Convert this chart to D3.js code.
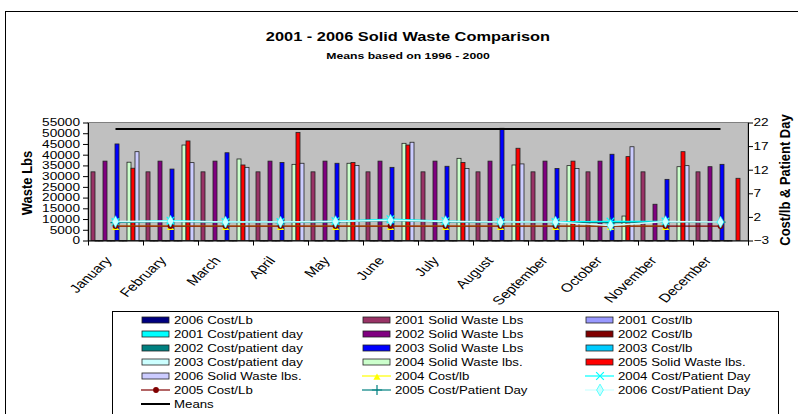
<!DOCTYPE html>
<html>
<head>
<meta charset="utf-8">
<script src="https://cdn.jsdelivr.net/npm/d3@7"></script>
<style>
  body { margin: 0; background: #fff; }
  svg { display: block; font-family: "Liberation Sans", Arial, sans-serif; }
</style>
</head>
<body>
<script>
const months = ['January', 'February', 'March', 'April', 'May', 'June',
    'July', 'August', 'September', 'October', 'November', 'December'];

// solid waste lbs (primary axis)
const sw2001 = [32000, 32000, 32000, 32000, 32000, 32000, 32000, 32000, 32000, 32000, 32000, 32000];
const sw2002 = [37000, 37000, 37000, 37000, 37000, 37000, 37000, 37000, 37000, 37000, 16900, 34400];
const sw2003 = [45000, 33300, 40900, 36400, 36000, 34100, 34600, 52300, 33600, 40200, 28500, 35500];
const sw2004 = [36500, 44500, 38000, 35500, 36000, 45300, 38300, 35200, 34900, 11400, 34400, null];
const sw2005 = [33700, 46400, 35200, 50400, 36400, 44500, 36400, 43000, 37000, 39100, 41400, 29000];
const sw2006 = [41400, 36300, 34100, 36000, 35000, 45800, 33600, 35700, 33600, 43700, 34900, null];

// cost series that were charted as columns on the waste axis (they sit on the floor)
const costLb2001 = [0.07, 0.07, 0.07, 0.07, 0.07, 0.07, 0.07, 0.07, 0.07, 0.07, 0.07, 0.07];
const costLb2002 = [0.07, 0.07, 0.07, 0.07, 0.07, 0.07, 0.07, 0.07, 0.07, 0.07, 0.07, 0.07];
const costLb2003 = [0.07, 0.07, 0.07, 0.07, 0.07, 0.07, 0.07, 0.07, 0.07, 0.07, 0.07, 0.07];
const costLb2006 = [0.08, 0.08, 0.08, 0.08, 0.08, 0.08, 0.08, 0.08, 0.08, 0.08, 0.08, null];
const cpd2001 = [0.9, 0.9, 0.9, 0.9, 0.9, 0.9, 0.9, 0.9, 0.9, 0.9, 0.9, 0.9];
const cpd2002 = [0.9, 0.9, 0.9, 0.9, 0.9, 0.9, 0.9, 0.9, 0.9, 0.9, 0.9, 0.9];
const cpd2003 = [0.9, 0.9, 0.9, 0.9, 0.9, 0.9, 0.9, 0.9, 0.9, 0.9, 0.9, 0.9];

// line series (secondary axis)
const costLb2004 = [0.05, 0.05, 0.05, 0.05, 0.05, 0.05, 0.05, 0.05, 0.05, 0.05, 0.05, null];
const costLb2005 = [0.05, 0.05, 0.05, 0.05, 0.05, 0.05, 0.05, 0.05, 0.05, 0.05, 0.05, 0.05];
const cpd2004 = [0.9, 1.2, 0.9, 0.9, 1.1, 1.5, 1.1, 0.9, 0.9, 1.0, 1.0, null];
const cpd2005 = [0.8, 1.0, 0.8, 0.8, 0.9, 1.2, 0.9, 0.8, 0.8, 0.8, 0.9, 0.9];
const cpd2006 = [1.0, 1.1, 0.9, 0.9, 1.0, 1.3, 1.0, 0.9, 0.9, 0.2, 1.0, 0.9];
const means = [52000, 52000, 52000, 52000, 52000, 52000, 52000, 52000, 52000, 52000, 52000, 52000];

const wasteTicks = [0, 5000, 10000, 15000, 20000, 25000, 30000, 35000, 40000, 45000, 50000, 55000];
const costTicks = [-3, 2, 7, 12, 17, 22];

// column series in the order Excel lays them out in each month
const barSeries = [
    {name: '2001 Solid Waste Lbs', values: sw2001, color: '#993366'},
    {name: '2001 Cost/lb', values: costLb2001, color: '#9999ff'},
    {name: '2001 Cost/patient day', values: cpd2001, color: '#00ffff'},
    {name: '2002 Solid Waste Lbs', values: sw2002, color: '#800080'},
    {name: '2002 Cost/lb', values: costLb2002, color: '#800000'},
    {name: '2002 Cost/patient day', values: cpd2002, color: '#008080'},
    {name: '2003 Solid Waste Lbs', values: sw2003, color: '#0000ff'},
    {name: '2003 Cost/lb', values: costLb2003, color: '#00ccff'},
    {name: '2003 Cost/patient day', values: cpd2003, color: '#ccffff'},
    {name: '2004 Solid Waste lbs.', values: sw2004, color: '#ccffcc'},
    {name: '2005 Solid Waste lbs.', values: sw2005, color: '#ff0000'},
    {name: '2006 Solid Waste lbs.', values: sw2006, color: '#ccccff'},
    {name: '2006 Cost/Lb', values: costLb2006, color: '#000080'}
];

const lineSeries = [
    {name: '2004 Cost/lb', values: costLb2004, color: '#ffff00', sym: 'triangle', w: 1},
    {name: '2004 Cost/Patient Day', values: cpd2004, color: '#00ffff', sym: 'times', w: 1.5},
    {name: '2005 Cost/Lb', values: costLb2005, color: '#800000', sym: 'circle', w: 1.2},
    {name: '2005 Cost/Patient Day', values: cpd2005, color: '#008080', sym: 'plus', w: 1},
    {name: '2006 Cost/Patient Day', values: cpd2006, color: '#ccffff', sym: 'diamond', w: 1.5}
];

const legendOrder = [
    '2006 Cost/Lb', '2001 Solid Waste Lbs', '2001 Cost/lb',
    '2001 Cost/patient day', '2002 Solid Waste Lbs', '2002 Cost/lb',
    '2002 Cost/patient day', '2003 Solid Waste Lbs', '2003 Cost/lb',
    '2003 Cost/patient day', '2004 Solid Waste lbs.', '2005 Solid Waste lbs.',
    '2006 Solid Waste lbs.', '2004 Cost/lb', '2004 Cost/Patient Day',
    '2005 Cost/Lb', '2005 Cost/Patient Day', '2006 Cost/Patient Day',
    'Means'
];

const SX = 1.3;  // the reference image is stretched sideways, text included

const svg = d3.select("body").append("svg")
    .attr("width", 798)
    .attr("height", 414);

svg.append("rect")
    .attr("x", 5.5).attr("y", 11.5)
    .attr("width", 840).attr("height", 440)
    .attr("fill", "#fff")
    .attr("stroke", "#000");

function label(x, y, str, size, weight, anchor, extra) {
    return svg.append("text")
        .attr("transform", `translate(${x},${y}) scale(${SX},1)` + (extra || ""))
        .attr("text-anchor", anchor || "start")
        .style("font-size", size + "px")
        .style("font-weight", weight || "normal")
        .text(str);
}

label(408, 40.5, "2001 - 2006 Solid Waste Comparison", 12.6, "bold", "middle");
label(408, 59, "Means based on 1996 - 2000", 9.4, "bold", "middle");

const plot = {left: 88, right: 748, top: 122.5, bottom: 240.5};

const x = d3.scaleBand()
    .domain(months)
    .range([plot.left, plot.right])
    .padding(0);

const x1 = d3.scaleBand()
    .domain(barSeries.map(d => d.name))
    .range([3, x.bandwidth()]);

const y = d3.scaleLinear()
    .domain([0, 55000])
    .range([plot.bottom, plot.top]);

const y2 = d3.scaleLinear()
    .domain([-3, 22])
    .range([plot.bottom, plot.top]);

svg.append("rect")
    .attr("x", plot.left).attr("y", plot.top)
    .attr("width", plot.right - plot.left)
    .attr("height", plot.bottom - plot.top)
    .attr("fill", "#c0c0c0")
    .attr("stroke", "#808080");

// columns
barSeries.forEach(s => {
    svg.append("g").selectAll("rect")
        .data(s.values.map((v, i) => ({m: months[i], v})).filter(d => d.v != null))
        .enter().append("rect")
        .attr("x", d => x(d.m) + x1(s.name))
        .attr("width", x1.bandwidth())
        .attr("y", d => y(d.v))
        .attr("height", d => Math.max(0.5, y(0) - y(d.v)))
        .attr("fill", s.color)
        .attr("stroke", "#222")
        .attr("stroke-width", 0.8);
});

// axes
const leftAxis = svg.append("g")
    .attr("transform", `translate(${plot.left},0)`)
    .call(d3.axisLeft(y).tickValues(wasteTicks).tickSize(5).tickSizeOuter(0).tickFormat(d3.format("d")));
leftAxis.selectAll("text")
    .attr("x", -8 / SX)
    .attr("transform", `scale(${SX},1)`)
    .style("font-size", "10.5px")
    .attr("fill", "#000");

const rightAxis = svg.append("g")
    .attr("transform", `translate(${plot.right},0)`)
    .call(d3.axisRight(y2).tickValues(costTicks).tickSize(5).tickSizeOuter(0));
rightAxis.selectAll("text")
    .attr("x", 5.5 / SX)
    .attr("transform", `scale(${SX},1)`)
    .style("font-size", "10.5px")
    .attr("fill", "#000");

const xl = d3.scaleLinear().domain([0, months.length]).range([plot.left, plot.right]);
svg.append("g")
    .attr("transform", `translate(0,${plot.bottom})`)
    .call(d3.axisBottom(xl).tickValues(d3.range(months.length + 1)).tickSize(5).tickSizeOuter(0).tickFormat(""));

svg.selectAll(".domain").attr("stroke", "#000");
svg.selectAll(".tick line").attr("stroke", "#000");

months.forEach((m, i) => {
    label(x(m) + x.bandwidth() / 2 - 3 - i * 0.5, 261, m, 12, "normal", "end", " rotate(-50)");
});

svg.append("text")
    .attr("transform", "translate(32,183) scale(1.15,1) rotate(-90)")
    .attr("text-anchor", "middle")
    .style("font-size", "13px")
    .style("font-weight", "bold")
    .text("Waste Lbs");
svg.append("text")
    .attr("transform", "translate(790,180) scale(1.15,1) rotate(-90)")
    .attr("text-anchor", "middle")
    .style("font-size", "13px")
    .style("font-weight", "bold")
    .text("Cost/lb & Patient Day");

// lines on the cost axis
const cx = i => x(months[i]) + x.bandwidth() / 2;
const symbols = {
    circle: d3.symbolCircle,
    diamond: d3.symbolDiamond,
    plus: d3.symbolPlus || d3.symbolCross,
    times: d3.symbolTimes || d3.symbolX || d3.symbolCross
};
const strokeSyms = ['plus', 'times'];

function drawMarker(g, sym, color, px, py, size) {
    const p = g.append("path")
        .attr("transform", `translate(${px},${py})`);
    if (sym === 'triangle') {
        // Excel's triangle sits a little low, so its base shows under the 2005 circles
        p.attr("d", "M0,-2.5L3.6,3.8L-3.6,3.8Z").attr("fill", color);
        return;
    }
    p.attr("d", d3.symbol().type(symbols[sym]).size(size)());
    if (strokeSyms.includes(sym)) {
        p.attr("fill", "none").attr("stroke", color).attr("stroke-width", 1.2);
    } else if (sym === 'diamond') {
        p.attr("fill", color).attr("stroke", "#00ffff").attr("stroke-width", 0.6);
    } else {
        p.attr("fill", color);
    }
}

const markerSize = {triangle: 30, circle: 26, diamond: 40, plus: 36, times: 40};

lineSeries.forEach(s => {
    const g = svg.append("g");
    const line = d3.line()
        .defined(d => d != null)
        .x((d, i) => cx(i))
        .y(d => y2(d));
    g.append("path")
        .attr("d", line(s.values))
        .attr("fill", "none")
        .attr("stroke", s.color)
        .attr("stroke-width", s.w);
    s.values.forEach((v, i) => {
        if (v != null) drawMarker(g, s.sym, s.color, cx(i), y2(v), markerSize[s.sym]);
    });
});

svg.append("path")
    .attr("d", d3.line().x((d, i) => cx(i)).y(d => y(d))(means))
    .attr("fill", "none")
    .attr("stroke", "#000")
    .attr("stroke-width", 2);

// legend
svg.append("rect")
    .attr("x", 112.5).attr("y", 311.5)
    .attr("width", 666).attr("height", 140)
    .attr("fill", "#fff")
    .attr("stroke", "#000");

const legendCols = [142, 363, 586];
legendOrder.forEach((name, k) => {
    const col = legendCols[k % 3];
    const ry = 320 + 14 * Math.floor(k / 3);
    const bar = barSeries.find(s => s.name === name);
    const ln = lineSeries.find(s => s.name === name);
    if (bar) {
        svg.append("rect")
            .attr("x", col).attr("y", ry - 3)
            .attr("width", 27).attr("height", 6)
            .attr("fill", bar.color)
            .attr("stroke", "#222")
            .attr("stroke-width", 0.8);
    } else {
        const color = ln ? ln.color : "#000";
        svg.append("line")
            .attr("x1", col - 1).attr("x2", col + 28)
            .attr("y1", ry).attr("y2", ry)
            .attr("stroke", color)
            .attr("stroke-width", ln ? 1.2 : 2);
        if (ln) drawMarker(svg, ln.sym, color, col + 14, ry, markerSize[ln.sym]);
    }
    label(col + 32, ry + 3.7, name, 10.2, "normal", "start");
});
</script>
</body>
</html>
